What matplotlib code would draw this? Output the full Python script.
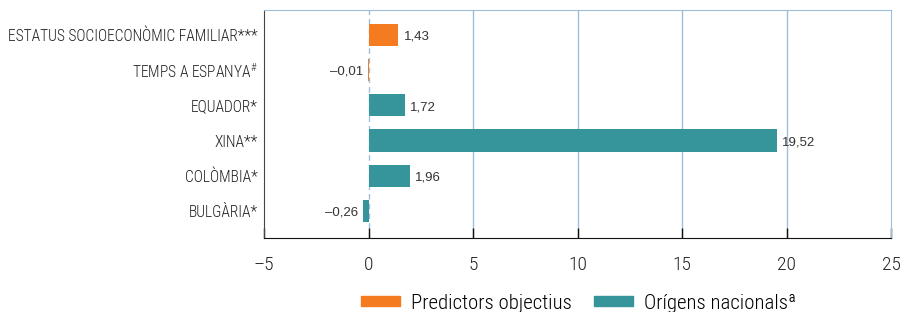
import matplotlib.pyplot as plt
from matplotlib.patches import Patch

plt.rcParams['font.family'] = ['Roboto Condensed', 'DejaVu Sans']
plt.rcParams['font.weight'] = 'light'
plt.rcParams['mathtext.fontset'] = 'custom'
plt.rcParams['mathtext.rm'] = 'Roboto Condensed:light'
plt.rcParams['mathtext.it'] = 'Roboto Condensed:light'

labels = ["ESTATUS SOCIOECONÒMIC FAMILIAR***", "TEMPS A ESPANYA$^{\\#}$", "EQUADOR*",
          "XINA**", "COLÒMBIA*", "BULGÀRIA*"]
values = [1.43, -0.01, 1.72, 19.52, 1.96, -0.26]
groups = ["obj", "obj", "nac", "nac", "nac", "nac"]

orange = "#F47B20"
teal = "#35959B"
grid_c = "#9DBFDC"
colors = [orange if g == "obj" else teal for g in groups]

fig = plt.figure(figsize=(9.04, 3.12), dpi=100)
ax = fig.add_axes([0.292, 0.237, 0.694, 0.731])

ypos = list(range(len(labels)))
ax.barh(ypos, values, height=0.63, color=colors, zorder=3)

for y, v in zip(ypos, values):
    txt = f"{v:.2f}".replace(".", ",").replace("-", "\u2013")
    if v >= 0:
        ax.text(v + 0.25, y + 0.05, txt, va="center", ha="left", fontsize=9.5,
                family=["Liberation Sans", "DejaVu Sans"], weight="normal", color="#333333")
    else:
        ax.text(v - 0.25, y + 0.05, txt, va="center", ha="right", fontsize=9.5,
                family=["Liberation Sans", "DejaVu Sans"], weight="normal", color="#333333")

ax.set_xlim(-5, 25)
ax.set_ylim(5.77, -0.71)
ax.set_xticks([-5, 0, 5, 10, 15, 20, 25])
ax.set_xticklabels(["\u20135", "0", "5", "10", "15", "20", "25"])
ax.set_yticks(ypos)
ax.set_yticklabels(labels)

for x in [5, 10, 15, 20]:
    ax.axvline(x, color=grid_c, lw=1.0, zorder=1)
ax.axvline(0, color=grid_c, lw=1.0, ls=(0, (4, 3)), zorder=1)

ax.spines["top"].set_color(grid_c)
ax.spines["right"].set_color(grid_c)
ax.spines["left"].set_color("#444444")
ax.spines["bottom"].set_color("#111111")

ax.tick_params(axis="x", direction="in", length=7, width=1, color="#111111",
               labelsize=14, pad=13, labelcolor="#222222")
ax.tick_params(axis="y", length=0, labelsize=11.2, pad=4.5, labelcolor="#222222")

handles = [Patch(color=orange, label="Predictors objectius"),
           Patch(color=teal, label="Orígens nacionals\u00aa")]
fig.legend(handles=handles, loc="lower center", bbox_to_anchor=(0.64, -0.062), ncol=2,
           frameon=False, fontsize=15, handlelength=1.87, handleheight=0.34,
           columnspacing=1.05, handletextpad=0.53)

fig.savefig("out.png", dpi=100)
